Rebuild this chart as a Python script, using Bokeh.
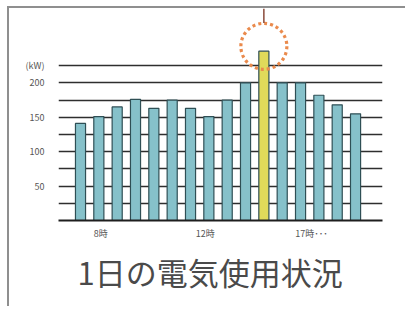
from bokeh.plotting import figure
from bokeh.models import FixedTicker, Title, ColumnDataSource
from bokeh.embed import file_html
from bokeh.resources import INLINE

# data
values = [141, 151, 165, 176, 163, 175, 163, 151, 175, 200, 246, 200, 200, 182, 168, 155]
peak_index = 10
tick_pos = [1.1, 6.8, 12.6]
tick_labels = ["8時", "12時", "17時･･･"]
y_label_ticks = [50, 100, 150, 200, 225]
y_label_text = {225: "(kW)"}
grid_ticks = [25, 50, 75, 100, 125, 150, 175, 200, 225]
title_text = "1日の電気使用状況"

xs = list(range(len(values)))
colors = ["#e0da5a" if i == peak_index else "#86c1ca" for i in xs]
src = ColumnDataSource(dict(x=xs, top=values, color=colors))

p = figure(width=398, height=300, output_backend="svg", toolbar_location=None,
           x_range=(-1.2, 16.47), y_range=(0, 308),
           min_border_left=49, min_border_right=25, min_border_top=0, min_border_bottom=88)
p.outline_line_color = None
p.background_fill_color = "white"
p.border_fill_color = "white"
p.styles = {"border-top": "2px solid #8f8f8f", "border-left": "2px solid #8f8f8f",
            "margin-left": "7px", "margin-top": "6px"}

p.xgrid.visible = False
p.ygrid.ticker = FixedTicker(ticks=grid_ticks)
p.ygrid.grid_line_color = "#2e2e2e"
p.ygrid.grid_line_width = 1.3

p.vbar(x="x", top="top", width=0.55, bottom=0, fill_color="color",
       line_color="#2f4f55", line_width=1.2, source=src)

# peak marker
peak_x = xs[peak_index]
peak_v = values[peak_index]
cy = peak_v + 7
p.scatter([peak_x], [cy], marker="circle", size=46, fill_color=None,
          line_color="#ea8a4c", line_width=3.2, line_dash="3 3")
p.segment([peak_x], [cy + 34], [peak_x], [308], line_color="#8a4a3a", line_width=1.5)

# axes
p.xaxis.ticker = FixedTicker(ticks=tick_pos)
p.xaxis.major_label_overrides = {t: l for t, l in zip(tick_pos, tick_labels)}
p.xaxis.major_tick_line_color = None
p.xaxis.minor_tick_line_color = None
p.xaxis.axis_line_color = "#1e1e1e"
p.xaxis.axis_line_width = 2
p.xaxis.major_label_standoff = 0
p.xaxis.major_label_text_font_size = "9px"
p.xaxis.major_label_text_color = "#555555"
p.xaxis.major_label_text_font = "Noto Sans CJK JP"

p.yaxis.ticker = FixedTicker(ticks=y_label_ticks)
p.yaxis.major_label_overrides = y_label_text
p.yaxis.major_tick_line_color = None
p.yaxis.minor_tick_line_color = None
p.yaxis.axis_line_color = None
p.yaxis.major_label_standoff = 8
p.yaxis.major_label_text_font_size = "9px"
p.yaxis.major_label_text_color = "#555555"
p.yaxis.major_label_text_font = "Noto Sans CJK JP"

t = Title(text=title_text, align="left", offset=19, text_font_size="31px",
          text_font="Noto Sans CJK JP", text_font_style="normal",
          text_color="#4a4a4a", standoff=8)
p.add_layout(t, "below")

open("out.html", "w").write(file_html(p, INLINE))
